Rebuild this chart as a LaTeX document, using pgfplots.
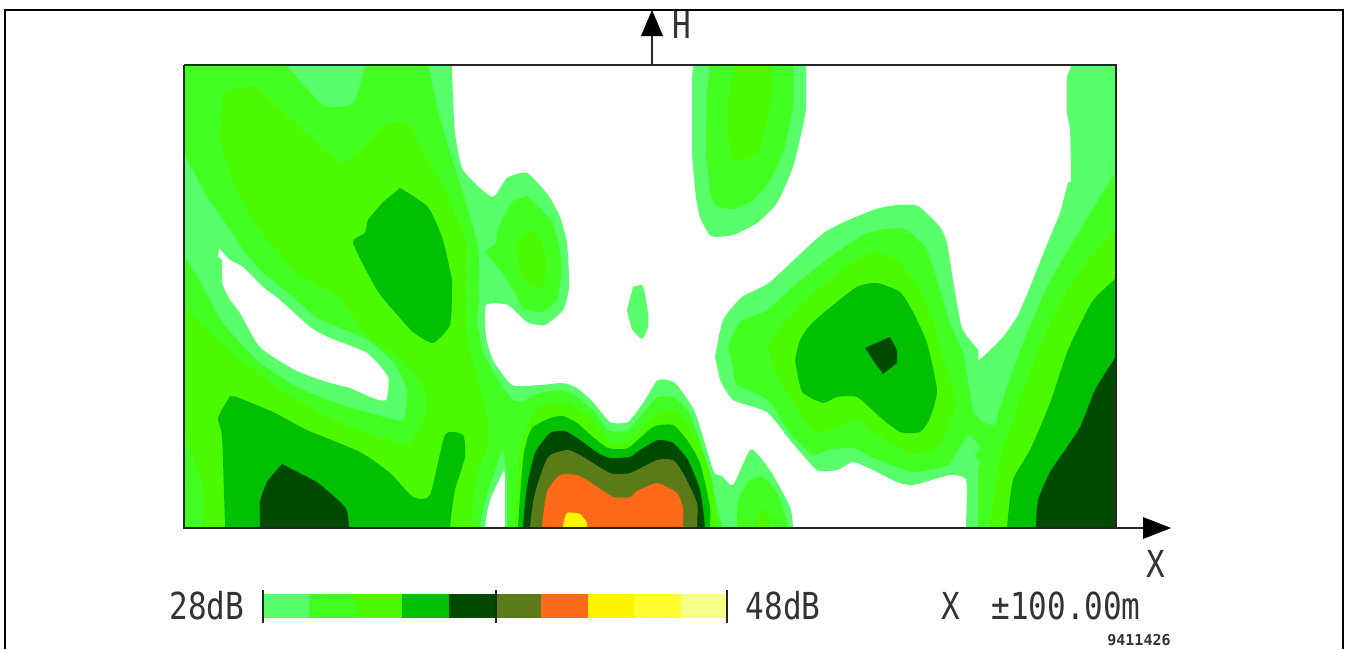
\documentclass[border=0pt]{standalone}
\usepackage{pgfplots}
\pgfplotsset{compat=1.18}
\usepackage{fontspec}
\setmainfont{DejaVu Sans Mono}
\definecolor{c1}{HTML}{58FF6A}
\definecolor{c2}{HTML}{42FF22}
\definecolor{c3}{HTML}{4CFA00}
\definecolor{c4}{HTML}{00C000}
\definecolor{c5}{HTML}{004A00}
\definecolor{c6}{HTML}{5B7A18}
\definecolor{c7}{HTML}{FF6A18}
\definecolor{c8}{HTML}{FFF500}
\definecolor{c9}{HTML}{FFFF30}
\definecolor{c10}{HTML}{F6FF85}
\definecolor{ink}{HTML}{333333}
\pgfplotsset{
  lev/.style={draw=none,fill=#1,no markers,line width=0pt,smooth,tension=0.35},
  flat/.style={draw=none,fill=#1,no markers,line width=0pt},
}
\newcommand{\lab}[3]{\node[text=ink,inner sep=0pt,anchor=center] at (axis cs:#1,#2) {\scalebox{1}[1.2]{\fontsize{31}{31}\selectfont #3}};}
\begin{document}
\begin{tikzpicture}
\useasboundingbox (0,0) rectangle (1345pt,649pt);
\begin{axis}[scale only axis,width=932pt,height=463pt,xmin=184,xmax=1116,ymin=65,ymax=528,y dir=reverse,hide axis,clip=true,anchor=south west,at={(184pt,121pt)}]
% level 1
\addplot[lev=c1] coordinates {(130,10)(452,10)(452,65)(453,97)(455,133)(463,170)(492,197)(507,178)(527,173)(548,195)(560,217)(567,243)(569,287)(563,310)(545,325)(527,322)(508,305)(486,305)(486,337)(493,360)(512,385)(540,385)(563,383)(577,388)(593,402)(610,422)(628,422)(643,403)(658,380)(675,383)(693,408)(700,427)(713,470)(717,475)(722,476)(733,485)(750,450)(760,457)(773,475)(790,507)(793,528)(795,590)(505,590)(505,528)(505,477)(503,472)(490,500)(485,528)(484,590)(130,590)} --cycle;
\addplot[lev=c1] coordinates {(693,10)(693,65)(692,80)(692,152)(696,197)(700,217)(711,236)(733,235)(757,223)(777,203)(793,167)(802,130)(806,108)(806,65)(806,10)} --cycle;
\addplot[lev=c1] coordinates {(633,287)(643,286)(648,313)(648,327)(642,339)(632,329)(627,310)} --cycle;
\addplot[lev=c1] coordinates {(715,357)(723,320)(742,297)(770,282)(825,232)(873,210)(897,205)(918,206)(940,227)(947,243)(953,280)(962,328)(978,350)(979,360)(1003,337)(1018,315)(1030,287)(1050,237)(1060,213)(1068,183)(1071,180)(1070,130)(1067,113)(1067,77)(1071,65)(1071,10)(1180,10)(1180,590)(966,590)(966,528)(967,490)(965,478)(950,475)(913,485)(897,482)(873,470)(853,462)(837,470)(817,470)(790,440)(767,412)(733,400)(720,380)} --cycle;
% level 2
\addplot[lev=c2] coordinates {(130,10)(429,10)(429,65)(438,110)(447,143)(463,193)(478,247)(479,300)(477,320)(483,353)(487,360)(500,383)(513,400)(523,401)(540,393)(562,390)(577,397)(593,410)(608,430)(628,430)(650,405)(658,397)(673,397)(687,410)(697,433)(710,473)(713,487)(717,507)(722,528)(724,590)(507,590)(507,528)(507,480)(503,450)(495,470)(485,500)(480,528)(478,590)(130,590)} --cycle;
\addplot[lev=c2] coordinates {(527,196)(512,202)(497,230)(497,242)(486,252)(500,270)(515,293)(523,308)(542,312)(557,300)(561,277)(560,250)(552,220)} --cycle;
\addplot[lev=c2] coordinates {(710,10)(710,65)(707,93)(706,153)(713,202)(733,209)(753,200)(770,180)(783,153)(793,107)(793,65)(793,10)} --cycle;
\addplot[lev=c2] coordinates {(737,590)(737,528)(738,500)(750,480)(763,477)(777,493)(788,528)(790,590)} --cycle;
\addplot[lev=c2] coordinates {(728,347)(740,322)(767,310)(797,283)(830,257)(867,233)(900,228)(913,235)(927,250)(937,280)(950,323)(963,353)(973,410)(983,422)(995,425)(1000,407)(1012,373)(1023,343)(1047,287)(1080,230)(1116,172)(1180,90)(1180,590)(978,590)(978,528)(978,472)(980,463)(975,455)(980,448)(968,435)(948,465)(913,472)(897,467)(873,458)(853,448)(828,450)(813,455)(790,433)(768,400)(737,385)(733,367)} --cycle;
% level-1 patches lying inside the level-2 area
\addplot[lev=c1] coordinates {(250,27)(286,65)(323,105)(350,105)(357,95)(365,65)(372,27)} --cycle;
\addplot[lev=c1] coordinates {(150,100)(187,160)(207,197)(230,230)(243,250)(263,273)(293,297)(317,318)(367,340)(393,362)(407,390)(403,420)(370,413)(337,403)(297,387)(257,360)(223,323)(205,290)(184,255)(150,200)} --cycle;
% white hollow
\addplot[lev=white] coordinates {(219,248)(230,260)(243,267)(263,287)(280,300)(310,327)(330,338)(367,353)(388,377)(386,400)(373,398)(350,388)(327,382)(295,370)(260,347)(240,313)(229,298)(222,282)(222,260)(218,257)} --cycle;
% level 3
\addplot[lev=c3] coordinates {(223,92)(253,86)(270,100)(307,133)(343,163)(383,127)(407,122)(423,153)(443,187)(463,233)(467,253)(466,333)(482,397)(488,423)(487,447)(478,470)(473,500)(472,528)(471,590)(203,590)(203,528)(203,490)(187,440)(170,420)(130,420)(130,310)(170,290)(184,305)(207,330)(250,367)(297,400)(340,423)(380,437)(407,445)(423,423)(427,397)(417,377)(393,353)(367,337)(340,298)(320,287)(297,273)(267,240)(243,203)(230,173)(220,140)} --cycle;
\addplot[lev=c3] coordinates {(532,229)(517,247)(522,277)(540,289)(545,280)(546,260)(540,240)} --cycle;
\addplot[lev=c3] coordinates {(735,10)(735,65)(729,93)(728,127)(733,160)(757,153)(768,117)(772,83)(772,65)(772,10)} --cycle;
\addplot[lev=c3] coordinates {(750,590)(753,528)(763,507)(770,528)(773,590)} --cycle;
\addplot[lev=c3] coordinates {(515,590)(515,528)(517,477)(522,440)(530,420)(537,407)(562,402)(577,408)(593,420)(608,442)(628,442)(653,417)(673,410)(687,423)(700,447)(712,483)(717,528)(718,590)} --cycle;
\addplot[lev=c3] coordinates {(768,347)(778,330)(810,297)(850,263)(877,252)(900,263)(917,287)(930,313)(940,350)(953,387)(955,407)(948,427)(937,447)(913,455)(897,447)(873,432)(857,420)(823,432)(810,427)(790,397)(775,370)} --cycle;
\addplot[lev=c3] coordinates {(1180,170)(1116,230)(1097,250)(1073,280)(1050,323)(1030,373)(1013,420)(1000,460)(990,528)(988,590)(1180,590)} --cycle;
% level 4
\addplot[lev=c4] coordinates {(400,188)(428,207)(443,240)(452,280)(452,290)(450,325)(433,343)(413,332)(393,310)(377,290)(353,243)(365,233)(368,220)(383,202)} --cycle;
\addplot[lev=c4] coordinates {(230,396)(218,418)(222,437)(225,528)(225,590)(449,590)(450,528)(455,490)(465,457)(463,435)(445,435)(430,495)(413,497)(390,473)(360,452)(307,430)(273,412)(237,397)} --cycle;
\addplot[lev=c4] coordinates {(518,590)(518,528)(523,460)(527,440)(533,427)(550,418)(563,416)(577,423)(593,437)(608,448)(628,448)(653,427)(673,425)(687,440)(700,463)(710,507)(710,528)(710,590)} --cycle;
\addplot[lev=c4] coordinates {(795,360)(800,340)(813,322)(855,288)(877,283)(900,292)(913,312)(927,343)(937,390)(930,418)(920,432)(900,432)(880,417)(857,397)(837,397)(823,403)(803,393)(798,377)} --cycle;
\addplot[lev=c4] coordinates {(1180,220)(1116,278)(1092,302)(1068,350)(1050,403)(1030,450)(1013,480)(1007,528)(1005,590)(1180,590)} --cycle;
% level 5
\addplot[lev=c5] coordinates {(282,464)(267,482)(260,502)(260,528)(260,590)(349,590)(349,528)(345,507)(317,482)} --cycle;
\addplot[lev=c5] coordinates {(523,590)(523,528)(527,487)(535,453)(550,433)(565,431)(580,440)(598,453)(610,458)(630,457)(640,450)(658,440)(673,443)(688,460)(700,490)(705,528)(706,590)} --cycle;
\addplot[flat=c5] coordinates {(865,348)(890,337)(897,350)(897,363)(883,374)(873,360)} --cycle;
\addplot[lev=c5] coordinates {(1180,290)(1150,310)(1116,357)(1107,370)(1095,390)(1080,427)(1065,450)(1050,472)(1038,500)(1036,528)(1035,590)(1180,590)} --cycle;
% levels 6 to 8
\addplot[lev=c6] coordinates {(530,590)(530,528)(535,493)(548,457)(567,450)(580,455)(610,473)(630,473)(657,460)(673,460)(683,473)(697,503)(697,528)(697,590)} --cycle;
\addplot[lev=c7] coordinates {(542,590)(542,528)(547,492)(560,475)(577,475)(590,482)(613,497)(630,497)(637,491)(657,483)(677,493)(683,508)(683,528)(683,590)} --cycle;
\addplot[lev=c8] coordinates {(563,590)(563,528)(567,513)(580,514)(587,523)(587,528)(587,590)} --cycle;
\end{axis}
\begin{axis}[scale only axis,width=1345pt,height=649pt,xmin=0,xmax=1345,ymin=0,ymax=649,y dir=reverse,hide axis,clip=false,anchor=south west,at={(0,0)}]
% plot frame and axes
\addplot[black!85,line width=1.8pt,no markers] coordinates {(184,65)(1116,65)(1116,528)(184,528)(184,65)};
\addplot[black!85,line width=1.8pt,no markers] coordinates {(1116,528)(1150,528)};
\addplot[flat=black] coordinates {(1143,517)(1171,528)(1143,539)} --cycle;
\addplot[black!85,line width=1.8pt,no markers] coordinates {(652,65)(652,30)};
\addplot[flat=black] coordinates {(641,36)(652,10)(663,36)} --cycle;
% outer frame
\addplot[black,line width=2pt,no markers] coordinates {(5,649)(5,10)(1343,10)(1343,649)};
% colour scale
\addplot[flat=c1] coordinates {(263,594)(309.4,594)(309.4,618)(263,618)} --cycle;
\addplot[flat=c2] coordinates {(309.4,594)(355.8,594)(355.8,618)(309.4,618)} --cycle;
\addplot[flat=c3] coordinates {(355.8,594)(402.2,594)(402.2,618)(355.8,618)} --cycle;
\addplot[flat=c4] coordinates {(402.2,594)(448.6,594)(448.6,618)(402.2,618)} --cycle;
\addplot[flat=c5] coordinates {(448.6,594)(495,594)(495,618)(448.6,618)} --cycle;
\addplot[flat=c6] coordinates {(495,594)(541.4,594)(541.4,618)(495,618)} --cycle;
\addplot[flat=c7] coordinates {(541.4,594)(587.8,594)(587.8,618)(541.4,618)} --cycle;
\addplot[flat=c8] coordinates {(587.8,594)(634.2,594)(634.2,618)(587.8,618)} --cycle;
\addplot[flat=c9] coordinates {(634.2,594)(680.6,594)(680.6,618)(634.2,618)} --cycle;
\addplot[flat=c10] coordinates {(680.6,594)(727,594)(727,618)(680.6,618)} --cycle;
\addplot[black!85,line width=1.4pt,no markers] coordinates {(263,590)(263,623)};
\addplot[black!85,line width=1.4pt,no markers] coordinates {(496,590)(496,623)};
\addplot[black!85,line width=1.4pt,no markers] coordinates {(727,590)(727,623)};
% text
\lab{682}{25}{H}
\lab{1156}{564}{X}
\lab{207}{606}{28dB}
\lab{783}{606}{48dB}
\lab{951}{606}{X}
\lab{1066}{606}{±100.00m}
\node[text=ink,inner sep=0pt] at (axis cs:1139,640) {\fontsize{15}{15}\selectfont\bfseries 9411426};
\end{axis}
\end{tikzpicture}
\end{document}
